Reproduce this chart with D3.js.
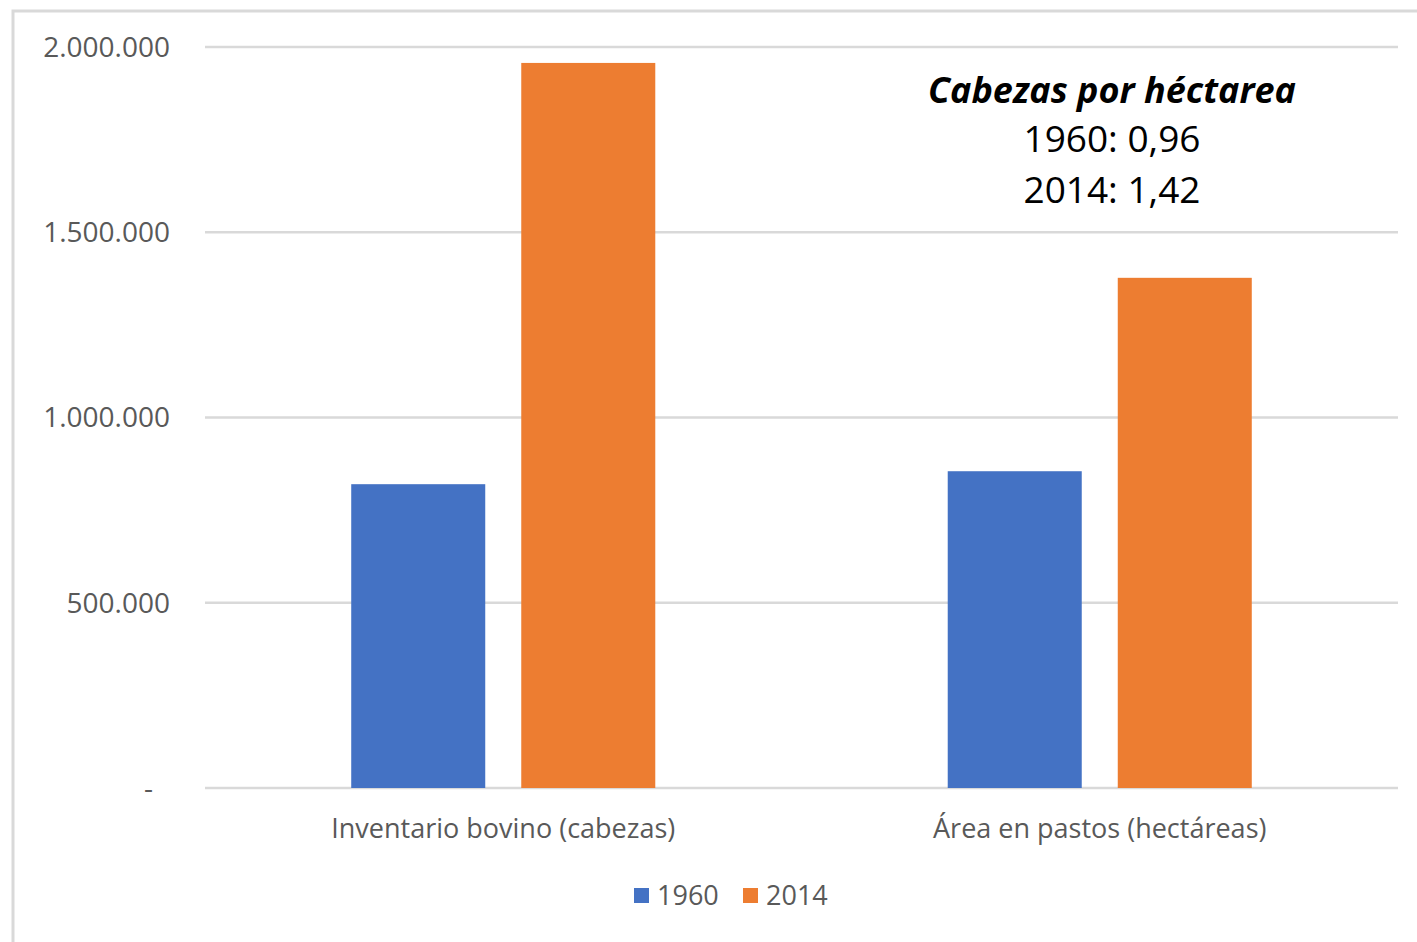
<!DOCTYPE html>
<html><head><meta charset="utf-8">
<script src="https://cdn.jsdelivr.net/npm/d3@7"></script>
<style>html,body{margin:0;padding:0;background:#fff;}svg{display:block;}</style>
</head><body>
<script>
const categories = ["Inventario bovino (cabezas)", "Área en pastos (hectáreas)"];
const seriesNames = ["1960", "2014"];
const values1960 = [820000, 855000];
const values2014 = [1957000, 1377000];
const yTicks = [0, 500000, 1000000, 1500000, 2000000];
const annotationTitle = "Cabezas por héctarea";
const annotationLines = ["1960: 0,96", "2014: 1,42"];

(function(){
const W = 1417, H = 942;
const colors = {"1960": "#4472C4", "2014": "#ED7D31"};
const font = "'Open Sans', 'Noto Sans', sans-serif";

const svg = d3.select("body").append("svg").attr("width", W).attr("height", H);

svg.append("rect").attr("x", 13).attr("y", 11).attr("width", W + 10).attr("height", H + 10)
  .attr("fill", "#fff").attr("stroke", "#D9D9D9").attr("stroke-width", 3);

const pLeft = 205, pRight = 1398, pTop = 47, pBottom = 788;
const x0 = d3.scaleBand().domain(categories).range([pLeft, pRight]).paddingInner(0).paddingOuter(0);
const x1 = d3.scaleBand().domain(seriesNames).range([0, x0.bandwidth()]).paddingInner(0.2118).paddingOuter(0.86);
const y = d3.scaleLinear().domain([0, 2000000]).range([pBottom, pTop]);

const fmt = v => v === 0 ? "-" : d3.format(",")(v).replace(/,/g, ".");

svg.append("g").selectAll("line").data(yTicks).join("line")
  .attr("x1", pLeft).attr("x2", pRight)
  .attr("y1", d => y(d)).attr("y2", d => y(d))
  .attr("stroke", "#D9D9D9").attr("stroke-width", 2.5);

svg.append("g").selectAll("text").data(yTicks).join("text")
  .attr("x", d => d === 0 ? 153 : 170).attr("y", d => y(d)).attr("dy", "0.35em")
  .attr("text-anchor", "end").attr("font-family", font).attr("font-size", 28)
  .attr("fill", "#595959").text(fmt);

const data = categories.map((c, i) => ({cat: c, vals: [{s: "1960", v: values1960[i]}, {s: "2014", v: values2014[i]}]}));
const g = svg.append("g");
data.forEach(d => {
  g.append("g").selectAll("rect").data(d.vals).join("rect")
    .attr("x", e => x0(d.cat) + x1(e.s)).attr("width", x1.bandwidth())
    .attr("y", e => y(e.v)).attr("height", e => y(0) - y(e.v))
    .attr("fill", e => colors[e.s]);
});

svg.append("g").selectAll("text").data(categories).join("text")
  .attr("x", d => x0(d) + x0.bandwidth() / 2).attr("y", 838)
  .attr("text-anchor", "middle").attr("font-family", font).attr("font-size", 27)
  .attr("fill", "#595959").text(d => d);

const leg = svg.append("g");
const legX = [634, 743];
seriesNames.forEach((s, i) => {
  leg.append("rect").attr("x", legX[i]).attr("y", 888).attr("width", 15).attr("height", 15).attr("fill", colors[s]);
  leg.append("text").attr("x", legX[i] + 23).attr("y", 905).attr("font-family", font).attr("font-size", 27)
    .attr("fill", "#595959").text(s);
});

const ax = 1112;
svg.append("text").attr("x", ax).attr("y", 103).attr("text-anchor", "middle")
  .attr("font-family", font).attr("font-size", 36).attr("font-weight", "bold").attr("font-style", "italic")
  .attr("fill", "#000").text(annotationTitle);
svg.append("g").selectAll("text").data(annotationLines).join("text")
  .attr("x", ax).attr("y", (d, i) => 152 + i * 51).attr("text-anchor", "middle")
  .attr("font-family", font).attr("font-size", 37).attr("fill", "#000").text(d => d);
})();
</script>
</body></html>
